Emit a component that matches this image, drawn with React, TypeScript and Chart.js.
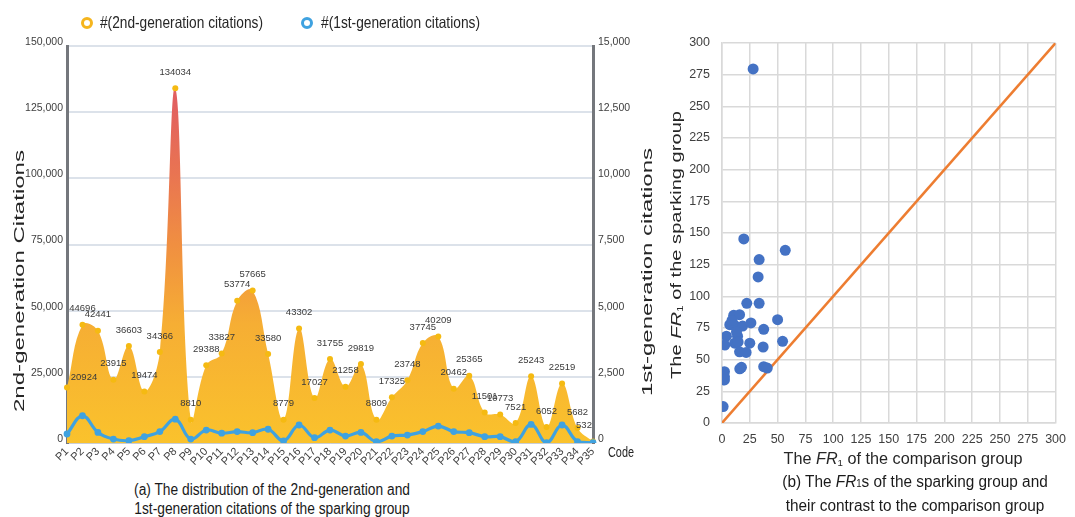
import React, { useEffect, useRef } from 'react';
import { Chart, registerables } from 'chart.js';
Chart.register(...registerables);

const FONT = '"Liberation Sans", Arial, sans-serif';

// ---- Data: panel (a) ----
const codes = ['P1','P2','P3','P4','P5','P6','P7','P8','P9','P10','P11','P12','P13','P14','P15','P16','P17','P18','P19','P20','P21','P22','P23','P24','P25','P26','P27','P28','P29','P30','P31','P32','P33','P34','P35'];
const secondGen = [20924,44696,42441,23915,36603,19474,34366,134034,8810,29388,33827,53774,57665,33580,8779,43302,17027,31755,21258,29819,8809,17325,23748,37745,40209,20462,25365,11501,10773,7521,25243,6052,22519,5682,532];
const firstGen = [340,1030,400,150,90,240,430,900,150,490,370,430,390,520,80,680,200,490,260,400,50,260,300,430,640,430,390,240,240,50,700,10,680,50,10];
const leftTicks = [0,25000,50000,75000,100000,125000,150000];
const rightTicks = [0,2500,5000,7500,10000,12500,15000];

// ---- Data: panel (b) ----
const comparisonFR1 = [19.6,56.9,33.4,32.5,22.3,33.4,10.5,15.8,7,11.4,18.5,26,50,37.5,4,14,13,2.5,11.4,14.5,25,37,54.5,15.8,21.7,2.2,2.2,2.2,16,17.5,37.5,40.7,1,28,9];
const sparkingFR1 = [145.3,136.3,129,115.3,94.5,94.5,85,85.5,77.6,77,76.5,79,81.6,74,68.5,68.5,72,61.5,63,64,63,60,64.5,56.2,55.7,40.5,36.5,34,42.8,44,44.5,43.4,13,279.5,81];
const diagonal = [0, 300];
const fr1Ticks = [0,25,50,75,100,125,150,175,200,225,250,275,300];

type Part = { t: string; italic?: boolean; sub?: boolean };

function drawParts(ctx: CanvasRenderingContext2D, parts: Part[], cx: number, cy: number, size: number, target: number, rotate: boolean, color = '#262626') {
  const fontFor = (p: Part) => `${p.italic ? 'italic ' : ''}${p.sub ? size * 0.6 : size}px ${FONT}`;
  let total = 0;
  const widths = parts.map(p => { ctx.font = fontFor(p); const w = ctx.measureText(p.t).width; total += w; return w; });
  const sx = target / total;
  ctx.save();
  ctx.translate(cx, cy);
  if (rotate) ctx.rotate(-Math.PI / 2);
  ctx.scale(sx, 1);
  ctx.fillStyle = color;
  ctx.textBaseline = 'middle';
  ctx.textAlign = 'left';
  let x = -total / 2;
  parts.forEach((p, i) => {
    ctx.font = fontFor(p);
    ctx.fillText(p.t, x, p.sub ? size * 0.22 : 0);
    x += widths[i];
  });
  ctx.restore();
}

function LeftChart() {
  const ref = useRef<HTMLCanvasElement>(null);
  useEffect(() => {
    const canvas = ref.current!;
    const overlay = {
      id: 'overlayA',
      afterDatasetsDraw(chart: any) {
        const ctx = chart.ctx as CanvasRenderingContext2D;
        const meta = chart.getDatasetMeta(1);
        ctx.save();
        ctx.font = `9.5px ${FONT}`;
        ctx.fillStyle = '#3a3a3a';
        ctx.textAlign = 'center';
        ctx.textBaseline = 'middle';
        meta.data.forEach((pt: any, i: number) => {
          let dx = 0, dy = -16;
          if (i === 0) { dx = 17; dy = -10; }
          if (i === secondGen.length - 1) { dx = -9; dy = -16; }
          ctx.fillText(String(secondGen[i]), pt.x + dx, pt.y + dy);
        });
        ctx.restore();
      },
      afterDraw(chart: any) {
        const ctx = chart.ctx as CanvasRenderingContext2D;
        const ring = (x: number, y: number, c: string) => {
          ctx.save();
          ctx.beginPath();
          ctx.arc(x, y, 4.5, 0, Math.PI * 2);
          ctx.fillStyle = '#fff';
          ctx.fill();
          ctx.lineWidth = 3;
          ctx.strokeStyle = c;
          ctx.stroke();
          ctx.restore();
        };
        ring(87, 23, '#F5B51E');
        ring(307, 23, '#3FA2E0');
        drawParts(ctx, [{ t: '#(2nd-generation citations)' }], 181.5, 23, 16.5, 163, false);
        drawParts(ctx, [{ t: '#(1st-generation citations)' }], 400.5, 23, 16.5, 159, false);
        drawParts(ctx, [{ t: '2nd-generation Citations' }], 20, 281, 14, 262, true);
        drawParts(ctx, [{ t: '1st-generation citations' }], 648, 272, 14, 248, true);
        drawParts(ctx, [{ t: 'Code' }], 621, 453, 14, 26, false);
      }
    };
    const chart = new Chart(canvas, {
      type: 'line',
      data: {
        labels: codes,
        datasets: [
          {
            label: '#(1st-generation citations)',
            data: firstGen,
            yAxisID: 'y1',
            borderColor: '#3FA2E0',
            backgroundColor: '#3FA2E0',
            borderWidth: 3.2,
            pointRadius: 3.4,
            pointBorderWidth: 0,
            tension: 0.4,
            fill: false,
            order: 0,
          },
          {
            label: '#(2nd-generation citations)',
            data: secondGen,
            yAxisID: 'y',
            borderWidth: 0,
            borderColor: 'rgba(0,0,0,0)',
            pointRadius: 3,
            pointBorderWidth: 0,
            pointBackgroundColor: '#F5BA12',
            tension: 0.4,
            fill: 'origin',
            order: 1,
            backgroundColor: (c: any) => {
              const { chart } = c;
              const area = chart.chartArea;
              if (!area) return '#F7B733';
              const g = chart.ctx.createLinearGradient(0, area.bottom, 0, area.top);
              g.addColorStop(0, '#FAC22C');
              g.addColorStop(0.3, '#F6AE34');
              g.addColorStop(0.5, '#F08F41');
              g.addColorStop(0.68, '#E97452');
              g.addColorStop(0.85, '#E2615F');
              g.addColorStop(1, '#DF5A66');
              return g;
            },
          },
        ],
      },
      options: {
        responsive: false,
        animation: false,
        layout: { padding: { top: 46, left: 0, right: 0, bottom: 0 } },
        plugins: { legend: { display: false }, tooltip: { enabled: false } },
        scales: {
          x: {
            offset: false,
            grid: { display: false, drawTicks: false },
            border: { display: true, color: '#C9CED6', width: 1 },
            ticks: { autoSkip: false, minRotation: 45, maxRotation: 45, font: { family: FONT, size: 11 }, color: '#404040', padding: 2 },
            afterFit: (s: any) => { s.height = 27; },
          },
          y: {
            position: 'left',
            min: 0, max: 150000,
            afterBuildTicks: (s: any) => { s.ticks = leftTicks.map(v => ({ value: v })); },
            ticks: { callback: (v: any) => Number(v).toLocaleString('en-US'), font: { family: FONT, size: 10.5 }, color: '#404040', padding: 4, labelOffset: -4 },
            grid: { color: '#DCE2EA', lineWidth: 2, drawTicks: false },
            border: { display: true, color: '#74777C', width: 3 },
            afterFit: (s: any) => { s.width = 67; },
          },
          y1: {
            position: 'right',
            min: 0, max: 15000,
            afterBuildTicks: (s: any) => { s.ticks = rightTicks.map(v => ({ value: v })); },
            ticks: { callback: (v: any) => Number(v).toLocaleString('en-US'), font: { family: FONT, size: 10.5 }, color: '#404040', padding: 5, labelOffset: -4 },
            grid: { drawOnChartArea: false, drawTicks: false },
            border: { display: true, color: '#74777C', width: 3 },
            afterFit: (s: any) => { s.width = 77; },
          },
        },
      },
      plugins: [overlay],
    } as any);
    return () => chart.destroy();
  }, []);
  return <canvas ref={ref} width={670} height={470} style={{ position: 'absolute', left: 0, top: 0, width: 670, height: 470 }} />;
}

function RightChart() {
  const ref = useRef<HTMLCanvasElement>(null);
  useEffect(() => {
    const canvas = ref.current!;
    const overlay = {
      id: 'overlayB',
      afterDraw(chart: any) {
        const ctx = chart.ctx as CanvasRenderingContext2D;
        drawParts(ctx, [{ t: 'The ' }, { t: 'FR', italic: true }, { t: '1', sub: true }, { t: ' of the comparison group' }], 243, 460, 16, 239, false);
        drawParts(ctx, [{ t: 'The ' }, { t: 'FR', italic: true }, { t: '1', sub: true }, { t: ' of the sparking group' }], 17, 245, 14.5, 268, true);
      }
    };
    const pts = comparisonFR1.map((x, i) => ({ x, y: sparkingFR1[i] }));
    const chart = new Chart(canvas, {
      type: 'scatter',
      data: {
        datasets: [
          {
            label: 'FR1',
            data: pts,
            backgroundColor: '#4472C4',
            borderWidth: 0,
            pointRadius: 5.5,
            order: 0,
          },
          {
            type: 'line',
            label: 'y = x',
            data: diagonal.map(v => ({ x: v, y: v })),
            borderColor: '#ED7D31',
            borderWidth: 2.5,
            pointRadius: 0,
            fill: false,
            order: 1,
          },
        ],
      },
      options: {
        responsive: false,
        animation: false,
        layout: { padding: { top: 43, right: 12, left: 0, bottom: 0 } },
        plugins: { legend: { display: false }, tooltip: { enabled: false } },
        scales: {
          x: {
            type: 'linear',
            min: 0, max: 300,
            afterBuildTicks: (s: any) => { s.ticks = fr1Ticks.map(v => ({ value: v })); },
            grid: { color: '#D9D9D9', lineWidth: 1.5, drawTicks: false },
            border: { display: true, color: '#D9D9D9', width: 1.5 },
            ticks: { font: { family: FONT, size: 12.5 }, color: '#404040', padding: 9, maxRotation: 0, autoSkip: false },
            afterFit: (s: any) => { s.height = 94; },
          },
          y: {
            type: 'linear',
            min: 0, max: 300,
            afterBuildTicks: (s: any) => { s.ticks = fr1Ticks.map(v => ({ value: v })); },
            grid: { color: '#D9D9D9', lineWidth: 1.5, drawTicks: false },
            border: { display: true, color: '#D9D9D9', width: 1.5 },
            ticks: { font: { family: FONT, size: 12.5 }, color: '#404040', padding: 12, autoSkip: false },
            afterFit: (s: any) => { s.width = 62; },
          },
        },
      },
      plugins: [overlay],
    } as any);
    return () => chart.destroy();
  }, []);
  return <canvas ref={ref} width={415} height={517} style={{ position: 'absolute', left: 660, top: 0, width: 415, height: 517 }} />;
}

const captionStyle: React.CSSProperties = {
  position: 'absolute',
  width: 420,
  textAlign: 'center',
  fontFamily: FONT,
  fontSize: 16,
  color: '#1a1a1a',
  transformOrigin: 'center',
  whiteSpace: 'nowrap',
};

export default function App() {
  return (
    <div style={{ position: 'fixed', left: 0, top: 0, width: 1075, height: 517, background: '#fff', overflow: 'hidden' }}>
      <LeftChart />
      <RightChart />
      <div style={{ ...captionStyle, left: 272 - 210, top: 480, lineHeight: '19px', transform: 'scaleX(0.86)' }}>
        (a) The distribution of the 2nd-generation and<br />1st-generation citations of the sparking group
      </div>
      <div style={{ ...captionStyle, left: 915 - 210, top: 471, lineHeight: '22px', transform: 'scaleX(0.96)' }}>
        (b) The <i>FR</i><span style={{ fontSize: 10 }}>1</span>s of the sparking group and<br />their contrast to the comparison group
      </div>
    </div>
  );
}
